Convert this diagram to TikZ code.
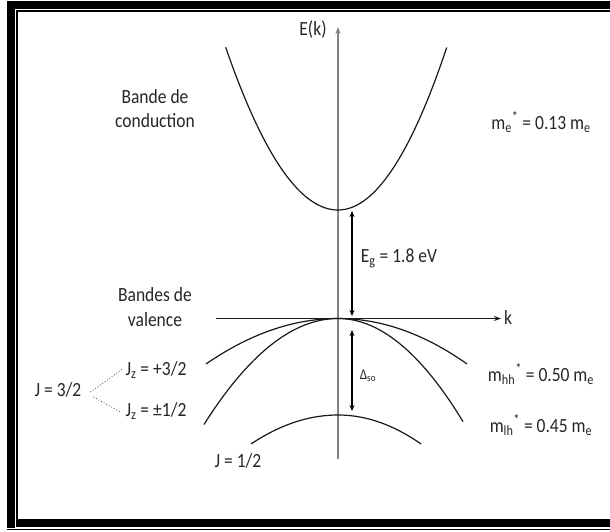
\documentclass[tikz,border=0pt]{standalone}
\usepackage{graphicx}
\usepackage{fontspec}
\setmainfont{Carlito}
\usetikzlibrary{arrows.meta}
\newcommand{\lbl}[1]{\scalebox{1}[1.15]{#1}}
\newcommand{\ms}[2]{m\textsubscript{#1}\textsuperscript{#2}}
\begin{document}
\begin{tikzpicture}[x=1pt,y=-1pt,
  lab/.style={inner sep=0pt,text=black!85,font=\fontsize{17.5}{20}\selectfont},
  small/.style={inner sep=0pt,text=black!85,font=\fontsize{13}{15}\selectfont},
  band/.style={line width=1.2pt,black!90},
  gaparrow/.style={line width=1.3pt,{Stealth[length=6pt,width=5pt]}-{Stealth[length=6pt,width=5pt]}},
  split/.style={line width=0.9pt,black!60,dotted}]
\useasboundingbox (0,0) rectangle (610,531);
% frame
\fill[black] (7,1) rectangle (610,9);
\fill[black] (16,10) rectangle (610,12);
\fill[black] (7,1) rectangle (15,527.5);
\fill[black] (16,10) rectangle (18,518.5);
\fill[black] (16,518.5) rectangle (610,527);
\fill[black] (7,528.5) rectangle (610,530);
% axes
\coordinate (vb) at (338,459);
\coordinate (vt) at (338,27);
\coordinate (hl) at (216,318.5);
\coordinate (hr) at (501,318.5);
\draw[line width=1.4pt,black!50,-{Stealth[length=7pt,width=5pt]}] (vb) -- (vt);
\draw[line width=1.9pt,black!90,-{Stealth[length=7pt,width=5pt]}] (hl) -- (hr);
% conduction band
\draw[band] plot[domain=-112.3:0,samples=60] ({338+\x},{210-1.29*(\x/10)*(\x/10)});
\draw[band] plot[domain=0:108.7,samples=60] ({338+\x},{210-1.375*(\x/10)*(\x/10)});
% valence bands
\draw[band] plot[domain=-132:0,samples=60] ({338+\x},{318.5+0.261*(\x/10)*(\x/10)});
\draw[band] plot[domain=0:129,samples=60] ({338+\x},{318.5+0.273*(\x/10)*(\x/10)});
\draw[band] plot[domain=-134:0,samples=60] ({338+\x},{318.5+0.59*(\x/10)*(\x/10)});
\draw[band] plot[domain=0:125,samples=60] ({338+\x},{318.5+0.66*(\x/10)*(\x/10)});
\draw[band] plot[domain=-87:0,samples=60] ({338+\x},{415+0.383*(\x/10)*(\x/10)});
\draw[band] plot[domain=0:83,samples=60] ({338+\x},{415+0.42*(\x/10)*(\x/10)});
% gap arrows
\coordinate (egt) at (352,211);
\coordinate (egb) at (352,316);
\coordinate (sot) at (352,330);
\coordinate (sob) at (352,411);
\draw[gaparrow] (egt) -- (egb);
\draw[gaparrow] (sot) -- (sob);
% labels
\node[lab] (ek) at (313,30) {\lbl{E(k)}};
\node[lab] (k) at (508,318) {\lbl{k}};
\node[lab] (bc1) at (155,97) {\lbl{Bande de}};
\node[lab] (bc2) at (155,121) {\lbl{conduction}};
\node[lab] (me) at (541,122) {\lbl{\ms{e}{*} = 0.13 m\textsubscript{e}}};
\node[lab] (eg) at (399,258) {\lbl{E\textsubscript{g} = 1.8 eV}};
\node[lab] (bv1) at (155,295) {\lbl{Bandes de}};
\node[lab] (bv2) at (155,320) {\lbl{valence}};
\node[small] (dso) at (368,376) {\lbl{Δ\textsubscript{so}}};
\node[lab] (jz1) at (156,370) {\lbl{J\textsubscript{z} = +3/2}};
\node[lab] (jz2) at (156,411) {\lbl{J\textsubscript{z} = ±1/2}};
\node[lab] (j32) at (58,390) {\lbl{J = 3/2}};
\node[lab] (mhh) at (541,374) {\lbl{\ms{hh}{*} = 0.50 m\textsubscript{e}}};
\node[lab] (mlh) at (541,425) {\lbl{\ms{lh}{*} = 0.45 m\textsubscript{e}}};
\node[lab] (j12) at (238,461) {\lbl{J = 1/2}};
\draw[split] (j32.east) ++(9,2) -- ([xshift=-3pt,yshift=1pt]jz1.west);
\draw[split] (j32.east) ++(12,7) -- ([xshift=-5pt,yshift=-1pt]jz2.west);
\end{tikzpicture}
\end{document}
